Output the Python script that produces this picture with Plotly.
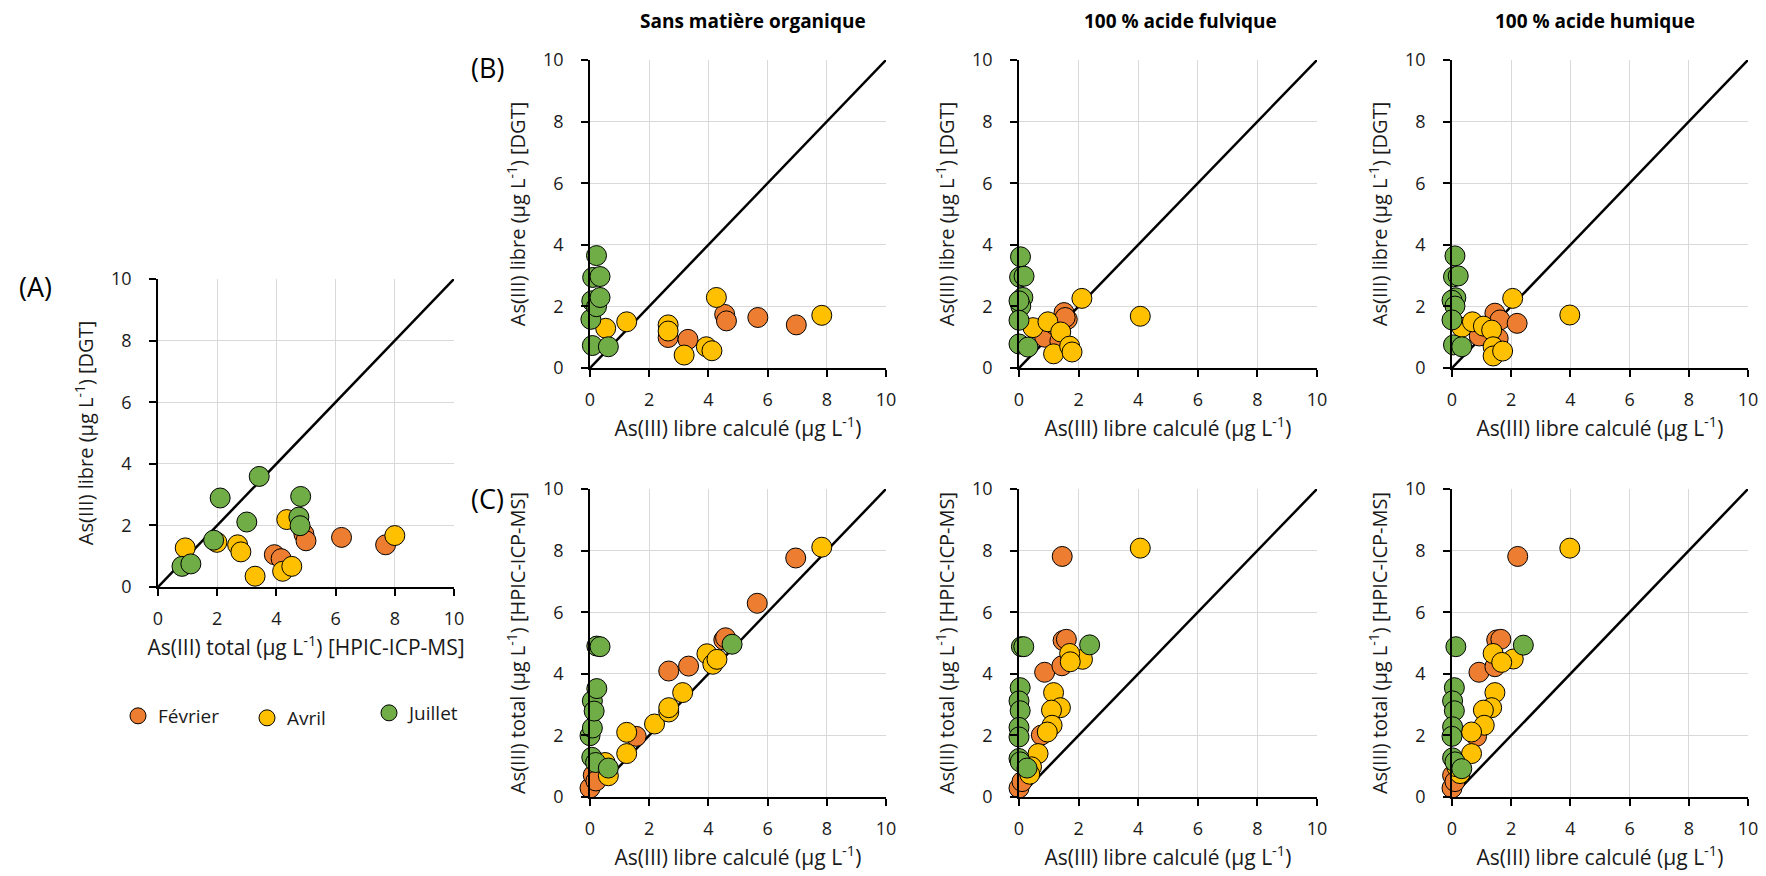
import plotly.graph_objects as go

W, H = 1766, 876
FONT = "Open Sans"

MONTHS = ["Février", "Avril", "Juillet"]
COLORS = ["#ED7D31", "#FFC000", "#70AD47"]
TICKS = [0, 2, 4, 6, 8, 10]
DIAG = [0, 10]

# ---- Panel A : x = As(III) total [HPIC-ICP-MS], y = As(III) libre [DGT]
A_FEV_X = [3.93, 4.16, 4.93, 5.00, 6.20, 7.69]
A_FEV_Y = [1.05, 0.92, 1.72, 1.50, 1.61, 1.37]
A_AVR_X = [0.92, 1.99, 2.69, 2.80, 3.28, 4.35, 4.21, 4.52, 8.00]
A_AVR_Y = [1.27, 1.45, 1.37, 1.14, 0.35, 2.19, 0.51, 0.67, 1.67]
A_JUI_X = [0.81, 1.11, 1.88, 2.10, 3.00, 3.42, 4.82, 4.76, 4.80]
A_JUI_Y = [0.67, 0.75, 1.52, 2.89, 2.11, 3.59, 2.94, 2.27, 1.99]

# ---- Panel B1 (sans matière organique): x = calculé, y = DGT
B1_FEV_X = [2.64, 3.31, 4.55, 4.61, 5.67, 6.97]
B1_FEV_Y = [0.99, 0.93, 1.74, 1.53, 1.64, 1.40]
B1_AVR_X = [0.53, 1.24, 2.64, 2.64, 3.18, 3.93, 4.12, 4.27, 7.83]
B1_AVR_Y = [1.29, 1.50, 1.40, 1.20, 0.42, 0.69, 0.56, 2.29, 1.71]
B1_JUI_X = [0.08, 0.62, 0.03, 0.06, 0.22, 0.34, 0.09, 0.34, 0.22]
B1_JUI_Y = [0.73, 0.69, 1.58, 2.18, 1.99, 2.29, 2.94, 2.97, 3.65]

# ---- Panel B2 (100 % acide fulvique)
B2_FEV_X = [1.51, 1.62, 0.86, 1.37, 1.20, 1.55]
B2_FEV_Y = [1.80, 1.58, 1.00, 0.87, 1.40, 1.64]
B2_AVR_X = [0.47, 0.97, 1.40, 2.11, 1.16, 1.70, 1.78, 4.07]
B2_AVR_Y = [1.31, 1.50, 1.17, 2.26, 0.46, 0.71, 0.52, 1.68]
B2_JUI_X = [0.05, 0.02, 0.17, 0.13, 0.06, 0.00, 0.00, 0.00, 0.30]
B2_JUI_Y = [3.61, 2.95, 2.98, 2.29, 2.01, 2.18, 1.55, 0.78, 0.68]

# ---- Panel B3 (100 % acide humique)
B3_FEV_X = [1.45, 1.62, 2.20, 0.92, 1.56, -0.12]
B3_FEV_Y = [1.78, 1.56, 1.45, 1.04, 0.96, 1.66]
B3_AVR_X = [0.33, 0.69, 1.06, 1.34, 2.05, 1.39, 1.39, 1.71, 3.98]
B3_AVR_Y = [1.32, 1.50, 1.36, 1.23, 2.26, 0.69, 0.39, 0.55, 1.72]
B3_JUI_X = [0.10, 0.05, 0.21, 0.13, 0.00, 0.10, 0.00, 0.05, 0.33]
B3_JUI_Y = [3.64, 2.96, 2.99, 2.28, 2.20, 2.01, 1.56, 0.75, 0.69]

# ---- Panel C1 (sans matière organique): x = calculé, y = total [HPIC-ICP-MS]
C1_FEV_X = [0.00, 0.11, 0.20, 1.56, 2.66, 3.33, 4.52, 4.58, 5.65, 6.95]
C1_FEV_Y = [0.29, 0.71, 0.52, 1.97, 4.09, 4.25, 5.10, 5.17, 6.29, 7.76]
C1_AVR_X = [0.62, 0.51, 1.24, 1.24, 2.18, 2.66, 2.66, 3.13, 3.95, 4.15, 4.29, 7.83]
C1_AVR_Y = [0.69, 1.12, 2.10, 1.41, 2.37, 2.76, 2.90, 3.39, 4.65, 4.31, 4.47, 8.11]
C1_JUI_X = [0.00, 0.08, 0.08, 0.14, 0.23, 0.06, 0.19, 0.62, 0.23, 0.34, 4.80]
C1_JUI_Y = [1.99, 2.24, 3.12, 2.79, 3.52, 1.29, 1.12, 0.94, 4.90, 4.88, 4.96]

# ---- Panel C2 (100 % acide fulvique)
C2_FEV_X = [1.45, 0.00, -0.05, 0.10, 0.86, 1.44, 1.48, 1.59, 0.75]
C2_FEV_Y = [7.81, 0.29, 0.74, 0.50, 4.05, 4.26, 5.08, 5.12, 2.01]
C2_AVR_X = [4.07, 2.13, 1.70, 1.72, 1.16, 1.39, 1.09, 1.11, 0.95, 0.64, 0.42, 0.36]
C2_AVR_Y = [8.08, 4.47, 4.66, 4.39, 3.39, 2.90, 2.82, 2.33, 2.11, 1.41, 0.98, 0.74]
C2_JUI_X = [0.08, 0.16, 2.37, 0.04, 0.00, 0.04, 0.00, 0.00, 0.00, 0.04, 0.27]
C2_JUI_Y = [4.88, 4.88, 4.94, 3.55, 3.12, 2.80, 2.26, 1.95, 1.25, 1.14, 0.94]

# ---- Panel C3 (100 % acide humique)
C3_FEV_X = [2.22, -0.02, 0.00, 0.02, 0.10, 0.91, 1.45, 1.51, 1.65, 0.83]
C3_FEV_Y = [7.81, 6.32, 0.29, 0.70, 0.50, 4.05, 4.23, 5.10, 5.12, 1.97]
C3_AVR_X = [3.98, 2.07, 1.39, 1.68, 1.45, 1.34, 1.06, 1.09, 0.66, 0.66, 0.27, 0.16]
C3_AVR_Y = [8.08, 4.48, 4.66, 4.37, 3.39, 2.90, 2.82, 2.33, 2.11, 1.41, 0.76, 0.98]
C3_JUI_X = [0.13, 2.41, 0.08, 0.02, 0.08, 0.02, 0.00, 0.02, 0.10, 0.33]
C3_JUI_Y = [4.88, 4.93, 3.55, 3.12, 2.80, 2.28, 1.97, 1.27, 1.14, 0.92]

SUP = "(µg L<sup>-1</sup>)"
T_TOTAL = "As(III) total " + SUP + " [HPIC-ICP-MS]"
T_DGT = "As(III) libre " + SUP + " [DGT]"
T_CALC = "As(III) libre calculé " + SUP

# panel definitions: (series, pixel x span, pixel y span, x title, y title)
COL1, COL2, COL3 = (590, 886), (1019, 1317), (1452, 1748)
ROWB, ROWC = (60, 368), (489, 797)
PANELS = [
    ([(A_FEV_X, A_FEV_Y), (A_AVR_X, A_AVR_Y), (A_JUI_X, A_JUI_Y)], (158, 454), (279, 587), T_TOTAL, T_DGT),
    ([(B1_FEV_X, B1_FEV_Y), (B1_AVR_X, B1_AVR_Y), (B1_JUI_X, B1_JUI_Y)], COL1, ROWB, T_CALC, T_DGT),
    ([(B2_FEV_X, B2_FEV_Y), (B2_AVR_X, B2_AVR_Y), (B2_JUI_X, B2_JUI_Y)], COL2, ROWB, T_CALC, T_DGT),
    ([(B3_FEV_X, B3_FEV_Y), (B3_AVR_X, B3_AVR_Y), (B3_JUI_X, B3_JUI_Y)], COL3, ROWB, T_CALC, T_DGT),
    ([(C1_FEV_X, C1_FEV_Y), (C1_AVR_X, C1_AVR_Y), (C1_JUI_X, C1_JUI_Y)], COL1, ROWC, T_CALC, T_TOTAL),
    ([(C2_FEV_X, C2_FEV_Y), (C2_AVR_X, C2_AVR_Y), (C2_JUI_X, C2_JUI_Y)], COL2, ROWC, T_CALC, T_TOTAL),
    ([(C3_FEV_X, C3_FEV_Y), (C3_AVR_X, C3_AVR_Y), (C3_JUI_X, C3_JUI_Y)], COL3, ROWC, T_CALC, T_TOTAL),
]

fig = go.Figure()
layout = {}
tickfont = dict(family=FONT, size=18, color="#1a1a1a")
xtitlefont = dict(family=FONT, size=21, color="#1a1a1a")
ytitlefont = dict(family=FONT, size=20, color="#1a1a1a")

for i, (series, (px0, px1), (py0, py1), xt, yt) in enumerate(PANELS):
    n = "" if i == 0 else str(i + 1)
    xa, ya = "x" + n, "y" + n
    common = dict(range=[0, 10], tickvals=TICKS, showgrid=True, gridcolor="#D9D9D9", gridwidth=1,
                  zeroline=False, showline=True, linecolor="black", linewidth=1.5,
                  ticks="outside", ticklen=7, tickwidth=1.5, tickcolor="black",
                  tickfont=tickfont, fixedrange=True, automargin=False)
    layout["xaxis" + n] = dict(common, domain=[px0 / W, px1 / W], anchor=ya,
                               title=dict(text=xt, font=xtitlefont, standoff=10),
                               ticklabelstandoff=8)
    layout["yaxis" + n] = dict(common, domain=[1 - py1 / H, 1 - py0 / H], anchor=xa,
                               title=dict(text=yt, font=ytitlefont, standoff=12),
                               ticklabelstandoff=14)
    fig.add_trace(go.Scatter(x=DIAG, y=DIAG, mode="lines", line=dict(color="black", width=2.5),
                             xaxis=xa, yaxis=ya, showlegend=False, hoverinfo="skip"))
    for k, (xs, ys) in enumerate(series):
        fig.add_trace(go.Scatter(
            x=xs, y=ys, mode="markers", name=MONTHS[k],
            marker=dict(size=20, color=COLORS[k], line=dict(color="black", width=1)),
            xaxis=xa, yaxis=ya, cliponaxis=False,
            showlegend=(i == 0), legend="legend" if k == 0 else "legend" + str(k + 1)))

# legends (one per month, placed like the reference)
LEG_POS = [(118, 716), (247, 718), (369, 713)]
for k, (lx, ly) in enumerate(LEG_POS):
    key = "legend" if k == 0 else "legend" + str(k + 1)
    layout[key] = dict(x=lx / W, y=1 - ly / H, xanchor="left", yanchor="middle",
                       bgcolor="rgba(0,0,0,0)", font=dict(family=FONT, size=19, color="#1a1a1a"),
                       itemsizing="trace")

annotations = []
for txt, cx, cy in [("Sans matière organique", 753, 21), ("100 % acide fulvique", 1180, 21),
                    ("100 % acide humique", 1595, 21)]:
    annotations.append(dict(text="<b>" + txt + "</b>", x=cx / W, y=1 - cy / H, xref="paper", yref="paper",
                            showarrow=False, xanchor="center", yanchor="middle",
                            font=dict(family=FONT, size=19, color="black")))
for txt, cx, cy in [("(A)", 35, 287), ("(B)", 487, 67), ("(C)", 487, 498)]:
    annotations.append(dict(text=txt, x=cx / W, y=1 - cy / H, xref="paper", yref="paper",
                            showarrow=False, xanchor="center", yanchor="middle",
                            font=dict(family=FONT, size=27, color="black")))

fig.update_layout(width=W, height=H, margin=dict(l=0, r=0, t=0, b=0, autoexpand=False),
                  plot_bgcolor="white", paper_bgcolor="white",
                  annotations=annotations, **layout)
fig.write_html("out.html", config={"displayModeBar": False},
               post_script="document.body.style.margin='0';")
